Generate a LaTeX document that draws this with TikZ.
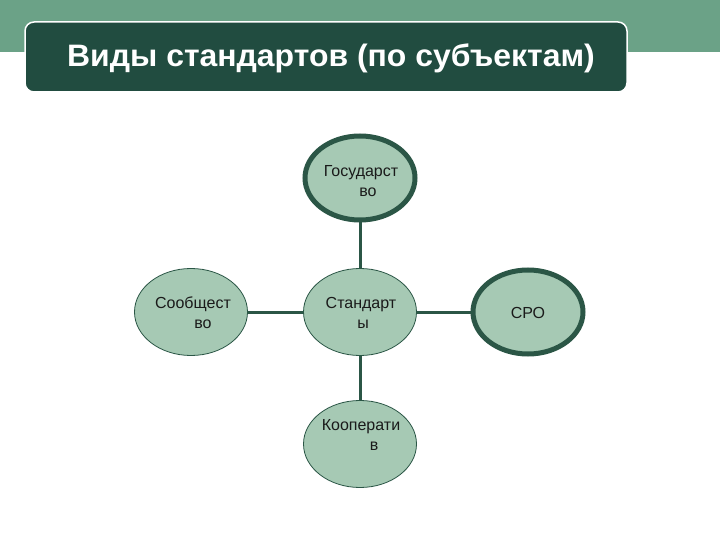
\documentclass[tikz,border=0pt]{standalone}
\usepackage{fontspec}
\setmainfont{Liberation Sans}
\usetikzlibrary{shapes.geometric}
\definecolor{band}{HTML}{6BA287}
\definecolor{titlebg}{HTML}{214C40}
\definecolor{ellfill}{HTML}{A6C9B4}
\definecolor{edge}{HTML}{2B5646}
\definecolor{txt}{HTML}{1A1A1A}
\tikzset{
  bubble/.style={ellipse, draw=edge, line width=0.8pt, fill=ellfill, minimum width=113pt, minimum height=87pt, inner sep=0pt},
  bubblethick/.style={bubble, line width=5pt, minimum width=110pt, minimum height=84pt},
  lbl/.style={align=center, text=txt, inner sep=0pt, font=\fontsize{16}{20}\selectfont},
  link/.style={draw=edge, line width=3pt}
}
\begin{document}
\begin{tikzpicture}[x=1pt,y=-1pt]
\useasboundingbox (0,0) rectangle (720,540);
\fill[white] (0,0) rectangle (720,540);
\fill[band] (0,0) rectangle (720,52);
\node[name=title, draw=white, line width=1.5pt, fill=titlebg, rounded corners=9pt, minimum width=602pt, minimum height=70pt, inner sep=0pt] at (326,57) {};
\node[name=titletext, text=white, font=\bfseries\fontsize{31}{34}\selectfont, inner sep=0pt, xscale=1.03] at (331,58) {Виды стандартов (по субъектам)};
\node[bubble, name=center] at (360,312) {};
\node[bubblethick, name=gos] at (360,178) {};
\node[bubble, name=soob] at (191,312) {};
\node[bubblethick, name=sro] at (528,312) {};
\node[bubble, name=coop] at (360,444) {};
\node[lbl, name=centert] at (361,313) {Стандарт\\\hspace*{4pt}ы};
\node[lbl, name=gost] at (361,181) {Государст\\\hspace*{14pt}во};
\node[lbl, name=soobt] at (193,313) {Сообщест\\\hspace*{20pt}во};
\node[lbl, name=srot] at (528,313) {СРО};
\node[lbl, name=coopt] at (361,435) {Кооперати\\\hspace*{26pt}в};
\draw[link] (gos) -- (center);
\draw[link] (soob) -- (center);
\draw[link] (center) -- (sro);
\draw[link] (center) -- (coop);
\end{tikzpicture}
\end{document}
